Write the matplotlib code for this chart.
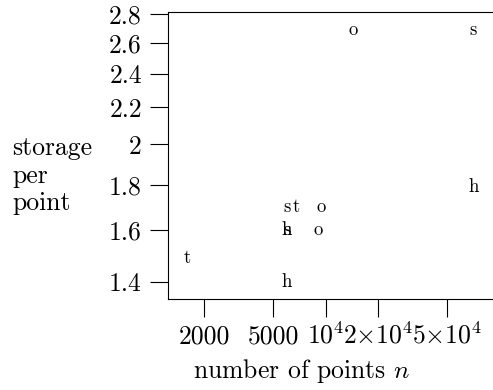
import matplotlib
matplotlib.use('Agg')
import matplotlib.pyplot as plt
from matplotlib.ticker import NullLocator

plt.rcParams['font.family'] = 'serif'
plt.rcParams['font.serif'] = ['cmr10']
plt.rcParams['mathtext.fontset'] = 'cm'
plt.rcParams['axes.formatter.use_mathtext'] = True

# points labelled by letter (n, storage per point)
s_n = [6000, 6000, 70600]
s_val = [1.70, 1.60, 2.69]
t_n = [1600, 6760]
t_val = [1.49, 1.70]
h_n = [6000, 6000, 70600]
h_val = [1.60, 1.40, 1.79]
o_n = [9380, 9080, 14300]
o_val = [1.70, 1.60, 2.69]

xticks = [2000, 5000, 10000, 20000, 50000]
xticklabels = ['2000', '5000', r'$10^4$', r'$2{\times}10^4$', r'$5{\times}10^4$']
yticks = [1.4, 1.6, 1.8, 2.0, 2.2, 2.4, 2.6, 2.8]
yticklabels = ['1.4', '1.6', '1.8', '2', '2.2', '2.4', '2.6', '2.8']

W, H = 493, 390
fig = plt.figure(figsize=(W / 100, H / 100), dpi=100)
ax = fig.add_axes([168 / W, 1 - 299 / H, 1 - 168 / W, (299 - 12) / H])
ax.set_xscale('log')
ax.set_yscale('log')

for letter, xs, ys in [('s', s_n, s_val), ('t', t_n, t_val),
                       ('h', h_n, h_val), ('o', o_n, o_val)]:
    for x, y in zip(xs, ys):
        ax.text(x, y, letter, ha='center', va='center', fontsize=13.5)

ax.set_xlim(1240, 91600)
ax.set_ylim(1.34, 2.815)
ax.set_xticks(xticks, xticklabels, va='baseline')
ax.set_yticks(yticks, yticklabels)
ax.xaxis.set_minor_locator(NullLocator())
ax.yaxis.set_minor_locator(NullLocator())

ax.tick_params(direction='out', length=13, width=0.8, labelsize=18.5)
ax.tick_params(axis='y', pad=5.8)
ax.tick_params(axis='x', pad=19.4)
ax.spines['right'].set_visible(False)
for sp in ['left', 'top', 'bottom']:
    ax.spines[sp].set_linewidth(0.8)

fig.text(12 / W, 1 - 176 / H, 'storage\nper\npoint', ha='left', va='center',
         fontsize=18.5, linespacing=1.2)
fig.text(302 / W, 1 - 378 / H, r'number of points $n$', ha='center',
         va='baseline', fontsize=18.5)

fig.savefig('out.png', dpi=100)
